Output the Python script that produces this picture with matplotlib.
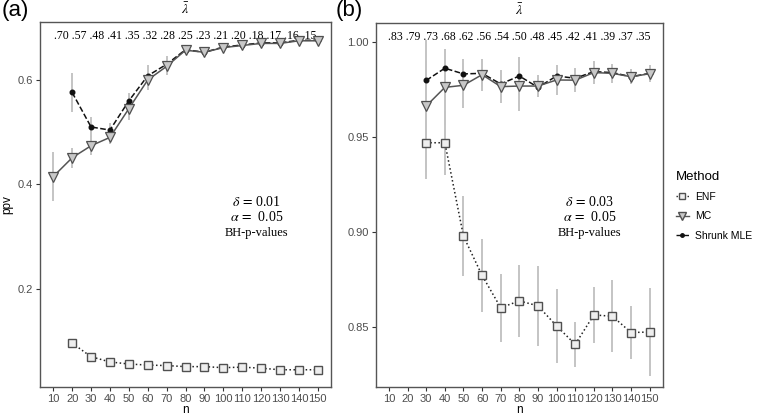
import numpy as np
import matplotlib
matplotlib.use("Agg")
import matplotlib.pyplot as plt
from matplotlib.lines import Line2D

plt.rcParams['font.family'] = ['Liberation Sans', 'DejaVu Sans']
plt.rcParams['mathtext.fontset'] = 'stix'

nan = np.nan
n = [10, 20, 30, 40, 50, 60, 70, 80, 90, 100, 110, 120, 130, 140, 150]

# panel (a): delta = 0.01
a_enf = [nan, 0.096, 0.070, 0.060, 0.056, 0.054, 0.053, 0.051, 0.051, 0.049, 0.050, 0.048, 0.045, 0.045, 0.045]
a_mc = [0.415, 0.451, 0.474, 0.490, 0.545, 0.600, 0.626, 0.657, 0.653, 0.662, 0.666, 0.670, 0.670, 0.675, 0.675]
a_mc_err = [0.047, 0.019, 0.018, 0.012, 0.022, 0.020, 0.016, 0.006, 0.007, 0.005, 0.004, 0.004, 0.003, 0.003, 0.003]
a_mle = [nan, 0.576, 0.510, 0.504, 0.560, 0.608, 0.630, 0.658, 0.653, 0.663, 0.667, 0.671, 0.671, 0.676, 0.676]
a_mle_err = [nan, 0.038, 0.020, 0.014, 0.015, 0.020, 0.016, 0.006, 0.006, 0.005, 0.004, 0.004, 0.003, 0.003, 0.003]
lam_a = [".70", ".57", ".48", ".41", ".35", ".32", ".28", ".25", ".23", ".21", ".20", ".18", ".17", ".16", ".15"]

# panel (b): delta = 0.03
b_enf = [nan, nan, 0.947, 0.947, 0.8977, 0.877, 0.860, 0.8636, 0.861, 0.8504, 0.8407, 0.8562, 0.8555, 0.8469, 0.8472]
b_enf_err = [nan, nan, 0.019, 0.017, 0.021, 0.019, 0.018, 0.019, 0.021, 0.0195, 0.012, 0.0146, 0.019, 0.014, 0.023]
b_mc = [nan, nan, 0.9664, 0.9762, 0.9773, 0.9829, 0.9766, 0.9769, 0.9769, 0.9801, 0.9800, 0.9840, 0.9836, 0.9818, 0.9834]
b_mc_err = [nan, nan, 0.035, 0.020, 0.012, 0.0085, 0.0085, 0.013, 0.006, 0.008, 0.0065, 0.006, 0.005, 0.004, 0.0045]
b_mle = [nan, nan, 0.9799, 0.9863, 0.9833, 0.9836, 0.9780, 0.9822, 0.9762, 0.9822, 0.9810, 0.9845, 0.9840, 0.9818, 0.9836]
b_mle_err = [nan, nan, 0.010, 0.010, 0.008, 0.007, 0.007, 0.010, 0.005, 0.006, 0.005, 0.005, 0.004, 0.004, 0.004]
lam_b = [".83", ".79", ".73", ".68", ".62", ".56", ".54", ".50", ".48", ".45", ".42", ".41", ".39", ".37", ".35"]

err_col = '#c4c4c4'
edge_col = '#505050'
tick_col = '#4d4d4d'


def draw_panel(ax, enf, mc, mle, errs, lam, delta, ylim, yticks):
    x = np.array(n)
    for vals, e in errs:
        v = np.array(vals)
        e = np.array(e)
        ok = ~np.isnan(v) & ~np.isnan(e)
        ax.vlines(x[ok], v[ok] - e[ok], v[ok] + e[ok], color=err_col, lw=1.4, zorder=1)
    ax.plot(x, enf, ls=':', color='#222222', lw=1.1, marker='s', ms=5.2,
            mfc='#eeeeee', mec=edge_col, mew=1.0, zorder=3)
    ax.plot(x, mle, ls='--', color='#111111', lw=1.1, marker='o', ms=3.3,
            mfc='#111111', mec='#111111', zorder=4)
    ax.plot(x, mc, ls='-', color='#555555', lw=1.1, marker='v', ms=6.8,
            mfc='#c8c8c8', mec=edge_col, mew=0.9, zorder=5)

    ax.set_xlim(3, 157)
    ax.set_ylim(*ylim)
    ax.set_xticks(n)
    ax.set_yticks(yticks)
    ax.tick_params(labelsize=8, labelcolor=tick_col, color='#333333', length=3, width=0.8, pad=2)
    for s in ax.spines.values():
        s.set_color('#555555')
        s.set_linewidth(1.0)
    ax.set_xlabel('n', fontsize=8.5, labelpad=0)

    ax.text(0.5, 0.962, ' '.join(lam), transform=ax.transAxes, ha='center', va='center',
            fontsize=8.5, family='Liberation Serif')
    ax.text(0.5, 1.035, r'$\bar{\lambda}$', transform=ax.transAxes, ha='center', va='center',
            fontsize=10)
    ax.text(0.745, 0.507, r'$\delta\,=\,$' + delta, transform=ax.transAxes, ha='center', va='center',
            fontsize=10, family='Liberation Serif')
    ax.text(0.745, 0.466, r'$\alpha\,=\,$ 0.05', transform=ax.transAxes, ha='center', va='center',
            fontsize=10, family='Liberation Serif')
    ax.text(0.745, 0.422, 'BH-p-values', transform=ax.transAxes, ha='center', va='center',
            fontsize=9, family='Liberation Serif')


fig = plt.figure(figsize=(7.58, 4.19), dpi=100)
ax1 = fig.add_axes([0.0528, 0.0764, 0.3839, 0.8711])
ax2 = fig.add_axes([0.4960, 0.0764, 0.3783, 0.8694])

draw_panel(ax1, a_enf, a_mc, a_mle, [(a_mc, a_mc_err), (a_mle, a_mle_err)], lam_a,
           '0.01', (0.012, 0.711), [0.2, 0.4, 0.6])
draw_panel(ax2, b_enf, b_mc, b_mle, [(b_enf, b_enf_err), (b_mc, b_mc_err), (b_mle, b_mle_err)], lam_b,
           '0.03', (0.8182, 1.0103), [0.85, 0.90, 0.95, 1.00])
ax1.set_yticklabels(['0.2', '0.4', '0.6'])
ax2.set_yticklabels(['0.85', '0.90', '0.95', '1.00'])
ax1.set_ylabel('ppv', fontsize=8.5, labelpad=3)

fig.text(0.002, 0.976, '(a)', fontsize=16, ha='left', va='center')
fig.text(0.443, 0.976, '(b)', fontsize=16, ha='left', va='center')

handles = [
    Line2D([], [], ls=':', color='#222222', lw=1.0, marker='s', ms=4, mfc='#eeeeee', mec=edge_col),
    Line2D([], [], ls='-', color='#555555', lw=1.0, marker='v', ms=5.5, mfc='#c8c8c8', mec=edge_col),
    Line2D([], [], ls='--', color='#111111', lw=1.0, marker='o', ms=2.5, mfc='#111111', mec='#111111'),
]
leg = fig.legend(handles, ['ENF', 'MC', 'Shrunk MLE'], title='Method', loc='upper left',
                 bbox_to_anchor=(0.879, 0.615), frameon=False, fontsize=7.5, title_fontsize=9.5,
                 handlelength=1.3, handletextpad=0.6, labelspacing=0.9)
leg._legend_box.align = 'left'

fig.savefig('out.png', dpi=100)
